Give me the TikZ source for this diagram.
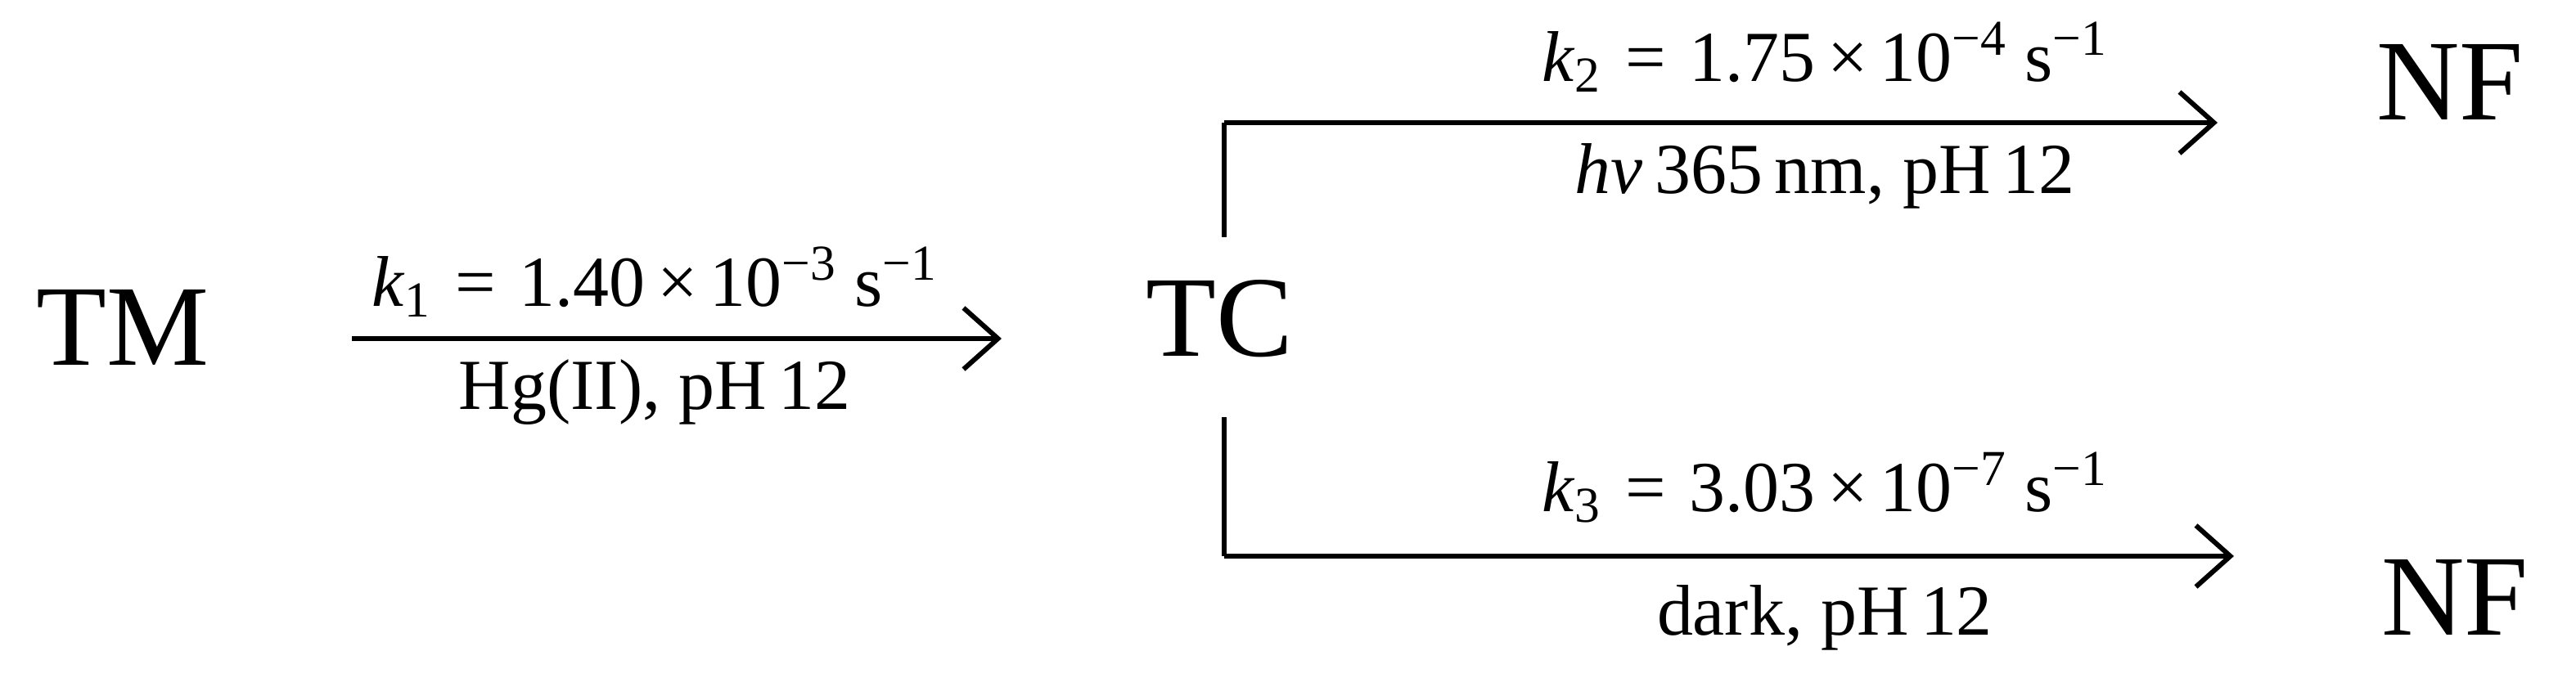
\documentclass[tikz,border=0pt]{standalone}
\usepackage{fontspec}
\setmainfont{Liberation Serif}
\usetikzlibrary{arrows.meta}
\begin{document}
\begin{tikzpicture}[
  big/.style={font=\fontsize{40}{41}\selectfont},
  lab/.style={font=\fontsize{25}{26}\selectfont},
  rx/.style={line width=1.7pt,-{Straight Barb[length=0.42cm,width=0.75cm,line width=1.7pt]}},
  br/.style={line width=1.7pt}]
\useasboundingbox (0,0) rectangle (31.48,8.4);
\node[big] (tm) at (1.5,4.4) {TM};
\node[big] (tc) at (14.9,4.5) {TC};
\node[big] (nf1) at (29.94,7.4) {NF};
\node[big] (nf2) at (30.0,1.1) {NF};
\coordinate (a1) at (4.3,4.26);
\coordinate (b1) at (12.24,4.26);
\draw[rx] (a1) -- (b1);
\node[lab] (k1) at (8.0,4.95) {\textit{k}\textsubscript{1}\,\,=\,\,1.40\,×\,10\textsuperscript{−3} s\textsuperscript{−1}};
\node[lab] (c1) at (8.0,3.6) {Hg(II), pH\,12};
\coordinate (u0) at (14.96,5.5);
\coordinate (u1) at (14.96,6.9);
\coordinate (u2) at (27.1,6.9);
\draw[br] (u0) -- (u1);
\draw[rx] (u1) -- (u2);
\node[lab] (k2) at (22.3,7.7) {\textit{k}\textsubscript{2}\,\,=\,\,1.75\,×\,10\textsuperscript{−4} s\textsuperscript{−1}};
\node[lab] (c2) at (22.3,6.25) {\textit{hν}\,365\,nm, pH\,12};
\coordinate (l0) at (14.96,3.3);
\coordinate (l1) at (14.96,1.6);
\coordinate (l2) at (27.3,1.6);
\draw[br] (l0) -- (l1);
\draw[rx] (l1) -- (l2);
\node[lab] (k3) at (22.3,2.44) {\textit{k}\textsubscript{3}\,\,=\,\,3.03\,×\,10\textsuperscript{−7} s\textsuperscript{−1}};
\node[lab] (c3) at (22.3,0.85) {dark, pH\,12};
\end{tikzpicture}
\end{document}
